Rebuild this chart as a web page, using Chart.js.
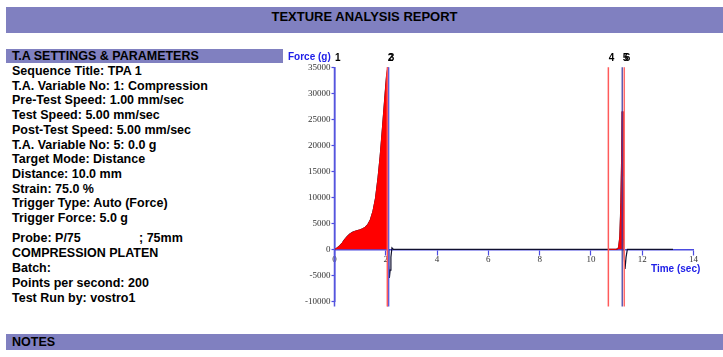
<!DOCTYPE html>
<html><head><meta charset="utf-8">
<script src="https://cdn.jsdelivr.net/npm/chart.js@4"></script>
<style>
body{margin:0;width:723px;height:357px;position:relative;overflow:hidden;background:#fff;font-family:"Liberation Sans",Arial,sans-serif;font-weight:bold;font-size:12.5px;color:#000}
.bar{position:absolute;background:#8080C0}
.t{position:absolute;white-space:pre;line-height:14px}
.ax{position:absolute;white-space:pre;font-size:10px;line-height:12px;color:#2020E8}
#c{position:absolute;left:0;top:0}
</style></head><body>
<div class="bar" style="left:6px;top:7px;width:717px;height:26px"></div>
<div class="t" style="left:0;width:729px;text-align:center;top:10.4px;font-size:13px">TEXTURE ANALYSIS REPORT</div>
<div class="bar" style="left:6px;top:49px;width:277px;height:14px"></div>
<div class="t" style="left:12px;top:49.3px">T.A SETTINGS &amp; PARAMETERS</div>
<div id="lines"></div>
<div class="bar" style="left:6px;top:334px;width:717px;height:16px"></div>
<div class="t" style="left:12px;top:335.3px">NOTES</div>
<canvas id="c" width="723" height="357"></canvas>
<div class="ax" style="left:288px;top:51.4px">Force (g)</div>
<div class="ax" style="left:651px;top:263px">Time (sec)</div>
<script>
// ---- settings text ----
const settingsBlock1 = [
  "Sequence Title: TPA 1",
  "T.A. Variable No: 1: Compression",
  "Pre-Test Speed: 1.00 mm/sec",
  "Test Speed: 5.00 mm/sec",
  "Post-Test Speed: 5.00 mm/sec",
  "T.A. Variable No: 5: 0.0 g",
  "Target Mode: Distance",
  "Distance: 10.0 mm",
  "Strain: 75.0 %",
  "Trigger Type: Auto (Force)",
  "Trigger Force: 5.0 g"
];
const settingsBlock2 = [
  "Probe: P/75",
  "COMPRESSION PLATEN",
  "Batch:",
  "Points per second: 200",
  "Test Run by: vostro1"
];
const probeSize = "; 75mm";

// ---- chart data ----
const timeSec = [0,0.1,0.2,0.3,0.4,0.5,0.6,0.7,0.8,0.9,1.0,1.1,1.2,1.3,1.4,1.5,1.6,1.7,1.78,1.85,1.91,1.97,2.03,2.08,2.1,2.12,2.14,2.17,2.2,2.24,2.3,3,5,8,10,10.68,11.0,11.08,11.13,11.17,11.2,11.22,11.25,11.28,11.3,11.33,11.37,11.42,12,13.2];
const forceG  = [0,250,650,1200,1900,2500,2950,3250,3450,3600,3750,3950,4250,4750,5700,7300,9800,13800,17800,22000,25800,29600,33300,35000,0,-3000,-5500,-4000,-1500,300,0,0,0,0,0,0,0,300,2500,9000,18000,26500,14000,2000,-1500,-3800,-1500,0,0,0];
const markerTimes  = [0, 2.06, 2.1, 10.68, 11.22, 11.30];
const markerLabels = ["1","2","3","4","5","6"];
const areaWindows  = [[0, 2.08], [10.68, 11.28]];
const xTicksStep = 2, xMin = 0, xMax = 14;
const yTicksStep = 5000, yMin = -10000, yMax = 35000;

// build text lines
const host = document.getElementById('lines');
settingsBlock1.forEach((s,i)=>{
  const d=document.createElement('div'); d.className='t';
  d.style.left='12px'; d.style.top=(71+i*14.7-7)+'px'; d.textContent=s; host.appendChild(d);
});
settingsBlock2.forEach((s,i)=>{
  const d=document.createElement('div'); d.className='t';
  d.style.left='12px'; d.style.top=(238.3+i*14.85-7)+'px'; d.textContent=s; host.appendChild(d);
});
{ const d=document.createElement('div'); d.className='t'; d.style.left='139px'; d.style.top=(238.3-7)+'px'; d.textContent=probeSize; host.appendChild(d); }

const trace = timeSec.map((t,i)=>({x:t,y:forceG[i]}));
const markerStyle = [
  {c:'#5555DD', w:1.5}, {c:'#FF5A5A', w:1.5}, {c:'#5A5AE0', w:2},
  {c:'#FF5A5A', w:1.5}, {c:'#3A3AA0', w:1.2}, {c:'#FF6A6A', w:1.5}
];
const datasets = [];
markerTimes.forEach((t,i)=>{
  datasets.push({data:[{x:t,y:yMax},{x:t,y:-11000}], borderColor:markerStyle[i].c, borderWidth:markerStyle[i].w, clip:false, order:0, pointRadius:0});
});
areaWindows.forEach(([a,b])=>{
  datasets.push({data:trace.filter(p=>p.x>=a && p.x<=b), borderColor:'#FF0000', borderWidth:1, backgroundColor:'#FF0000', fill:'origin', order:1, pointRadius:0});
});
datasets.push({data:trace, borderColor:'#101030', borderWidth:1.2, fill:false, order:2, pointRadius:0});

const markerLabelPlugin = {
  id:'markerLabels',
  afterDatasetsDraw(chart){
    const {ctx, scales:{x}} = chart;
    ctx.save();
    ctx.font = 'bold 10px "Liberation Sans"';
    ctx.fillStyle = '#000';
    ctx.textBaseline = 'alphabetic';
    markerTimes.forEach((t,i)=>{ ctx.fillText(markerLabels[i], x.getPixelForValue(t)+0.5, 61); });
    ctx.restore();
  }
};

const axisBlue = '#4B4BE0';
new Chart(document.getElementById('c'), {
  type:'line',
  data:{datasets},
  options:{
    responsive:false, animation:false,
    layout:{padding:{left:284.5, right:29.5, top:67.3, bottom:55.7}},
    plugins:{legend:{display:false}, tooltip:{enabled:false}},
    elements:{line:{tension:0}, point:{radius:0}},
    scales:{
      x:{type:'linear', min:xMin, max:xMax, position:{y:0},
        afterFit:s=>{s.height=0;},
        grid:{display:true, drawOnChartArea:false, drawTicks:true, tickLength:5, color:axisBlue, tickWidth:1.2},
        border:{display:true, color:axisBlue, width:1.5},
        ticks:{stepSize:xTicksStep, autoSkip:false, maxRotation:0, padding:0, color:'#333', font:{family:'"Liberation Serif"', size:9}}
      },
      y:{type:'linear', min:yMin, max:yMax,
        afterFit:s=>{s.width=50;},
        grid:{display:true, drawOnChartArea:false, drawTicks:true, tickLength:3, color:axisBlue, tickWidth:1.2},
        border:{display:true, color:axisBlue, width:1.5},
        ticks:{stepSize:yTicksStep, padding:1, color:'#333', font:{family:'"Liberation Serif"', size:9}, callback:v=>String(v)}
      }
    }
  },
  plugins:[markerLabelPlugin]
});
</script>
</body></html>
